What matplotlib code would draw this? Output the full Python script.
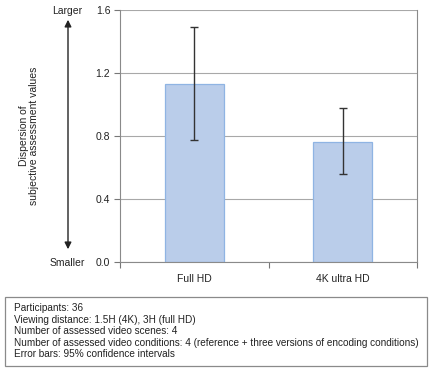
import matplotlib
matplotlib.use('Agg')
import matplotlib.pyplot as plt
from matplotlib.patches import Rectangle

plt.rcParams['font.family'] = ['Liberation Sans', 'DejaVu Sans']

# data
categories = ['Full HD', '4K ultra HD']
dispersion = [1.13, 0.762]
ci_low = [0.775, 0.557]
ci_high = [1.494, 0.976]
y_ticks = [0.0, 0.4, 0.8, 1.2, 1.6]
notes = ['Participants: 36',
         'Viewing distance: 1.5H (4K), 3H (full HD)',
         'Number of assessed video scenes: 4',
         'Number of assessed video conditions: 4 (reference + three versions of encoding conditions)',
         'Error bars: 95% confidence intervals']

yerr = [[d - lo for d, lo in zip(dispersion, ci_low)],
        [hi - d for d, hi in zip(dispersion, ci_high)]]

W, H = 432, 372
fig = plt.figure(figsize=(W / 100, H / 100), dpi=100)
ax = fig.add_axes([120 / W, 1 - 262 / H, 297 / W, 252 / H])

x = list(range(len(categories)))
ax.bar(x, dispersion, width=0.4, color='#bacdea', edgecolor='#8fb4e3',
       linewidth=0.9, zorder=2)
ax.errorbar(x, dispersion, yerr=yerr, fmt='none', ecolor='#333333',
            elinewidth=1.0, capsize=3, capthick=1.0, zorder=3)

ax.set_xlim(-0.5, 1.5)
ax.set_ylim(0, 1.6)
ax.set_yticks(y_ticks)
ax.set_yticklabels(['%.1f' % v for v in y_ticks], fontsize=7.5,
                   color='#222222')
ax.yaxis.grid(True, color='#a8a8a8', linewidth=0.8, zorder=0)
ax.set_axisbelow(True)

# category labels centred, tick marks between categories
ax.set_xticks([-0.5, 0.5, 1.5])
ax.set_xticklabels([])
ax.set_xticks(x, minor=True)
ax.set_xticklabels(categories, minor=True, fontsize=7.5, color='#222222')
ax.tick_params(axis='x', which='minor', length=0, pad=9)
ax.tick_params(axis='x', which='major', length=4, color='#777777')
ax.tick_params(axis='y', length=4, color='#777777', pad=3)

for side in ['left', 'bottom', 'right']:
    ax.spines[side].set_color('#8a8a8a')
    ax.spines[side].set_linewidth(0.8)
ax.spines['top'].set_visible(False)

# y label with a double arrow
fig.text(29 / W, 1 - 136 / H, 'Dispersion of\nsubjective assessment values',
         rotation=90, ha='center', va='center', fontsize=7.5,
         linespacing=1.05, color='#222222')
fig.text(67 / W, 1 - 11 / H, 'Larger', ha='center', va='center',
         fontsize=7.5, color='#222222')
fig.text(67 / W, 1 - 263 / H, 'Smaller', ha='center', va='center',
         fontsize=7.5, color='#222222')
fig.add_artist(matplotlib.patches.FancyArrowPatch(
    (68 / W, 1 - 252 / H), (68 / W, 1 - 17 / H), transform=fig.transFigure,
    arrowstyle='<|-|>', mutation_scale=10, color='#222222', linewidth=1.0))

# notes box
fig.add_artist(Rectangle((5 / W, 1 - 366 / H), 422 / W, 69 / H,
                         transform=fig.transFigure, fill=False,
                         edgecolor='#8a8a8a', linewidth=0.9))
fig.text(14 / W, 1 - 303 / H, '\n'.join(notes), ha='left', va='top',
         fontsize=7.2, linespacing=1.2, color='#222222')

fig.savefig('out.png', dpi=100)
